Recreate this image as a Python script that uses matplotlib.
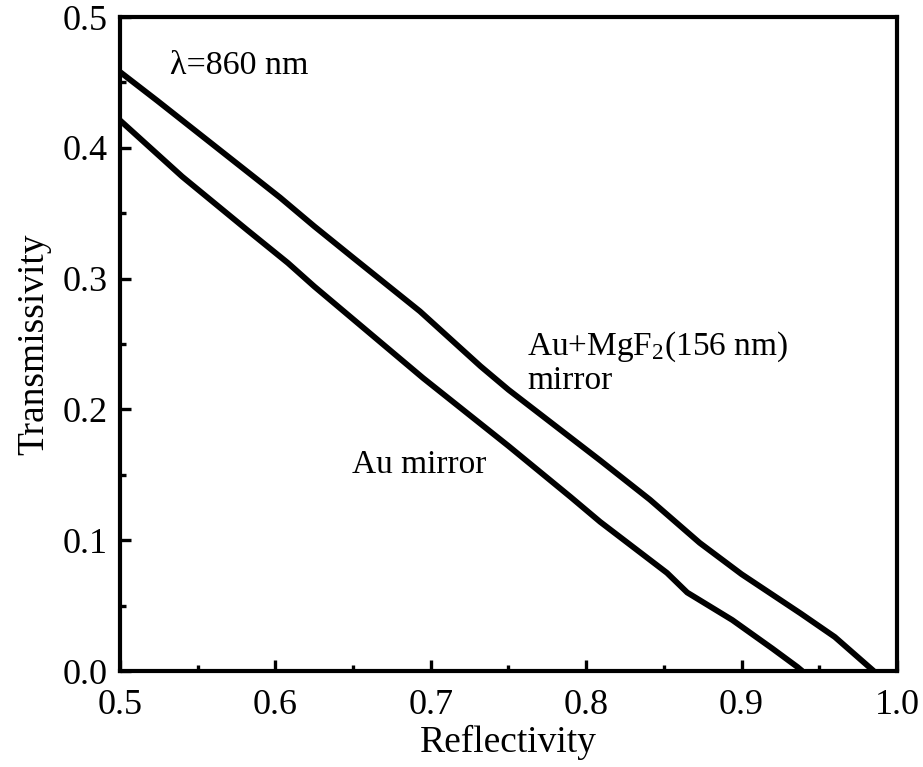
import numpy as np
import matplotlib
matplotlib.use("Agg")
from matplotlib import pyplot as plt
from matplotlib.ticker import MultipleLocator

# values (reflectivity, transmissivity)
au_mgf2_R = [0.500, 0.524, 0.603, 0.625, 0.650, 0.693, 0.732, 0.750, 0.809, 0.841, 0.873, 0.900, 0.938, 0.960, 0.985]
au_mgf2_T = [0.458, 0.436, 0.362, 0.340, 0.316, 0.275, 0.233, 0.215, 0.161, 0.131, 0.098, 0.074, 0.044, 0.026, 0.000]

au_R = [0.500, 0.540, 0.582, 0.608, 0.625, 0.650, 0.695, 0.750, 0.790, 0.809, 0.852, 0.865, 0.894, 0.920, 0.936, 0.939]
au_T = [0.421, 0.378, 0.337, 0.312, 0.294, 0.269, 0.224, 0.172, 0.133, 0.114, 0.075, 0.060, 0.039, 0.017, 0.003, 0.000]

x_ticks = [0.5, 0.6, 0.7, 0.8, 0.9, 1.0]
y_ticks = [0.0, 0.1, 0.2, 0.3, 0.4, 0.5]

plt.rcParams['font.family'] = ['Liberation Serif', 'DejaVu Serif']
plt.rcParams['mathtext.fontset'] = 'custom'
plt.rcParams['mathtext.rm'] = 'Liberation Serif'

fig = plt.figure(figsize=(9.23, 7.67), dpi=100)
ax = fig.add_axes([120 / 923, 96 / 767, 777 / 923, 654 / 767])

# the two curves
ax.plot(au_mgf2_R, au_mgf2_T, color='black', lw=4.2, solid_capstyle='butt')
ax.plot(au_R, au_T, color='black', lw=4.2, solid_capstyle='butt')

ax.set_xlim(0.5, 1.0)
ax.set_ylim(0.0, 0.5)
ax.set_xticks(x_ticks)
ax.set_yticks(y_ticks)
ax.set_xticklabels(['%.1f' % v for v in x_ticks])
ax.set_yticklabels(['%.1f' % v for v in y_ticks])
ax.xaxis.set_minor_locator(MultipleLocator(0.05))
ax.yaxis.set_minor_locator(MultipleLocator(0.05))

ax.tick_params(which='both', direction='in', width=2.4, labelsize=26, top=False, right=False)
ax.tick_params(which='major', length=8)
ax.tick_params(axis='x', which='major', pad=13)
ax.tick_params(axis='y', which='major', pad=9)
ax.tick_params(which='minor', length=4)
for s in ax.spines.values():
    s.set_linewidth(3.0)

ax.set_xlabel('Reflectivity', fontsize=27, labelpad=2)
ax.set_ylabel('Transmissivity', fontsize=27, labelpad=8)

# annotations
ax.text(0.532, 0.463, u'\u03bb=860 nm', fontsize=24.5, va='center', ha='left')
ax.text(0.762, 0.248, 'Au+MgF$\\mathrm{_2}$(156 nm)', fontsize=24, va='center', ha='left')
ax.text(0.762, 0.222, 'mirror', fontsize=24, va='center', ha='left')
ax.text(0.649, 0.158, 'Au mirror', fontsize=24, va='center', ha='left')

fig.savefig('out.png', dpi=100)
